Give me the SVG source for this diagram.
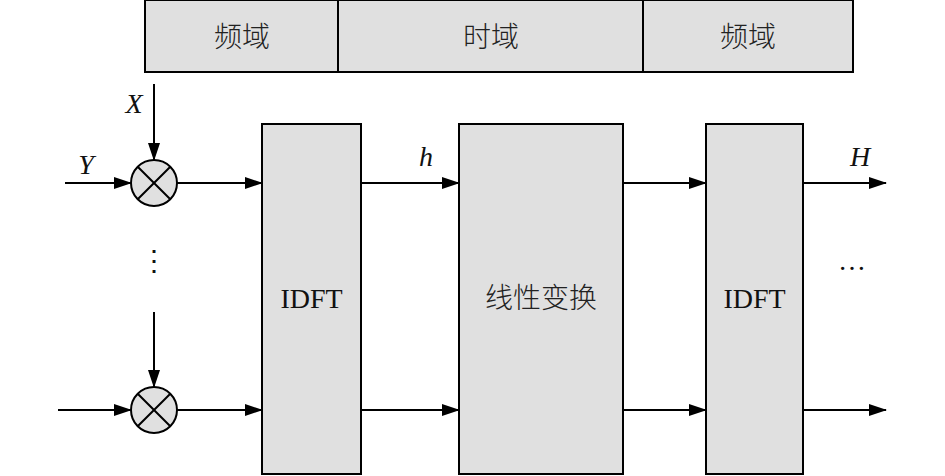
<svg xmlns="http://www.w3.org/2000/svg" width="945" height="476" viewBox="0 0 945 476">
<style>
.box{fill:#e0e0e0;stroke:#000;stroke-width:2}
.ln{stroke:#000;stroke-width:2;fill:none}
.t{font-family:"Liberation Serif","Noto Sans CJK SC",serif;font-size:28px;fill:#111;text-anchor:middle}
.cjk{font-family:"Noto Sans CJK SC",sans-serif;font-size:28px;fill:#222;text-anchor:middle;font-weight:300}
.it{font-style:italic}
</style>
<defs>
<marker id="ah" markerWidth="18" markerHeight="12" refX="17" refY="6" orient="auto" markerUnits="userSpaceOnUse">
<path d="M0,0 L18,6 L0,12 Z" fill="#000"/>
</marker>
</defs>
<g id="domain-bar">
<rect class="box" x="145" y="0" width="193" height="72"/>
<rect class="box" x="338" y="0" width="305" height="72"/>
<rect class="box" x="643" y="0" width="210" height="72"/>
<text class="cjk" x="242" y="47">频域</text>
<text class="cjk" x="491" y="47">时域</text>
<text class="cjk" x="748" y="47">频域</text>
</g>
<g id="mult1">
<circle class="box" cx="154" cy="183" r="23"/>
<path class="ln" d="M137.7,166.7 L170.3,199.3 M170.3,166.7 L137.7,199.3"/>
</g>
<g id="mult2">
<circle class="box" cx="154" cy="410" r="23"/>
<path class="ln" d="M137.7,393.7 L170.3,426.3 M170.3,393.7 L137.7,426.3"/>
</g>
<g id="idft1">
<rect class="box" x="262" y="124" width="99" height="350"/>
<text class="t" x="311.5" y="308">IDFT</text>
</g>
<g id="linear">
<rect class="box" x="459" y="124" width="164" height="350"/>
<text class="cjk" x="541" y="308">线性变换</text>
</g>
<g id="idft2">
<rect class="box" x="706" y="124" width="97" height="350"/>
<text class="t" x="754.5" y="308">IDFT</text>
</g>
<g id="connectors">
<line class="ln" x1="154" y1="84" x2="154" y2="160" marker-end="url(#ah)"/>
<line class="ln" x1="65" y1="183" x2="131" y2="183" marker-end="url(#ah)"/>
<line class="ln" x1="177" y1="183" x2="262" y2="183" marker-end="url(#ah)"/>
<line class="ln" x1="154" y1="312" x2="154" y2="387" marker-end="url(#ah)"/>
<line class="ln" x1="58" y1="410" x2="131" y2="410" marker-end="url(#ah)"/>
<line class="ln" x1="177" y1="410" x2="262" y2="410" marker-end="url(#ah)"/>
<line class="ln" x1="361" y1="183" x2="459" y2="183" marker-end="url(#ah)"/>
<line class="ln" x1="361" y1="410" x2="459" y2="410" marker-end="url(#ah)"/>
<line class="ln" x1="623" y1="183" x2="706" y2="183" marker-end="url(#ah)"/>
<line class="ln" x1="623" y1="410" x2="706" y2="410" marker-end="url(#ah)"/>
<line class="ln" x1="803" y1="183" x2="886" y2="183" marker-end="url(#ah)"/>
<line class="ln" x1="803" y1="410" x2="886" y2="410" marker-end="url(#ah)"/>
</g>
<g id="labels">
<text class="t it" x="134" y="113">X</text>
<text class="t it" x="86" y="174">Y</text>
<text class="t it" x="426" y="166">h</text>
<text class="t it" x="860" y="166">H</text>
<text class="t" x="154" y="270">⋮</text>
<text class="t" x="852" y="270">…</text>
</g>
</svg>
